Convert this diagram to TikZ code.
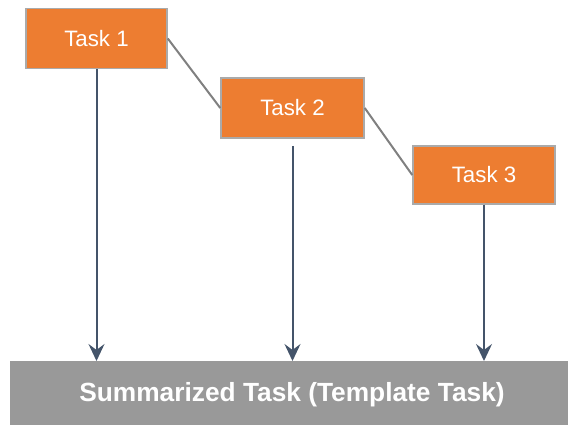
\documentclass[tikz,border=0pt]{standalone}
\usepackage{fontspec}
\setmainfont{Liberation Sans}
\usetikzlibrary{arrows.meta}
\definecolor{taskorange}{RGB}{237,125,49}
\definecolor{taskborder}{RGB}{170,170,170}
\definecolor{bargray}{RGB}{153,153,153}
\definecolor{arrowblue}{RGB}{68,84,106}
\definecolor{linkgray}{RGB}{128,128,128}
\tikzset{
  taskbox/.style={draw=taskborder, line width=1.5pt, fill=taskorange, text=white, minimum width=141pt, minimum height=60pt, inner sep=0pt, font=\fontsize{22.3}{26}\selectfont},
  barbox/.style={fill=bargray, text=white, minimum width=560pt, minimum height=64pt, inner sep=0pt},
  bartextstyle/.style={text=white, font=\fontsize{26.3}{30}\selectfont\bfseries},
  downarrow/.style={draw=arrowblue, line width=2pt, -{Stealth[length=17pt, width=16pt, inset=6pt]}},
  link/.style={draw=linkgray, line width=2pt}
}
\begin{document}
\begin{tikzpicture}[x=1pt, y=-1pt]
\useasboundingbox (0,0) rectangle (568,425);
\node[taskbox] (t1) at (96.5,38.5) {Task 1};
\node[taskbox, minimum width=143pt] (t2) at (292.5,108) {Task 2};
\node[taskbox, minimum width=142pt, minimum height=58pt] (t3) at (484,175) {Task 3};
\node[barbox, anchor=north west] (bar) at (10,361) {};
\node[bartextstyle] (bartext) at (292,395) {Summarized Task (Template Task)};
\coordinate (s2) at (292.5,146);
\draw[link] (t1.east) -- (t2.west);
\draw[link] (t2.east) -- (t3.west);
\draw[downarrow] (t1.south) -- (t1.south |- bar.north);
\draw[downarrow] (s2) -- (s2 |- bar.north);
\draw[downarrow] (t3.south) -- (t3.south |- bar.north);
\end{tikzpicture}
\end{document}
